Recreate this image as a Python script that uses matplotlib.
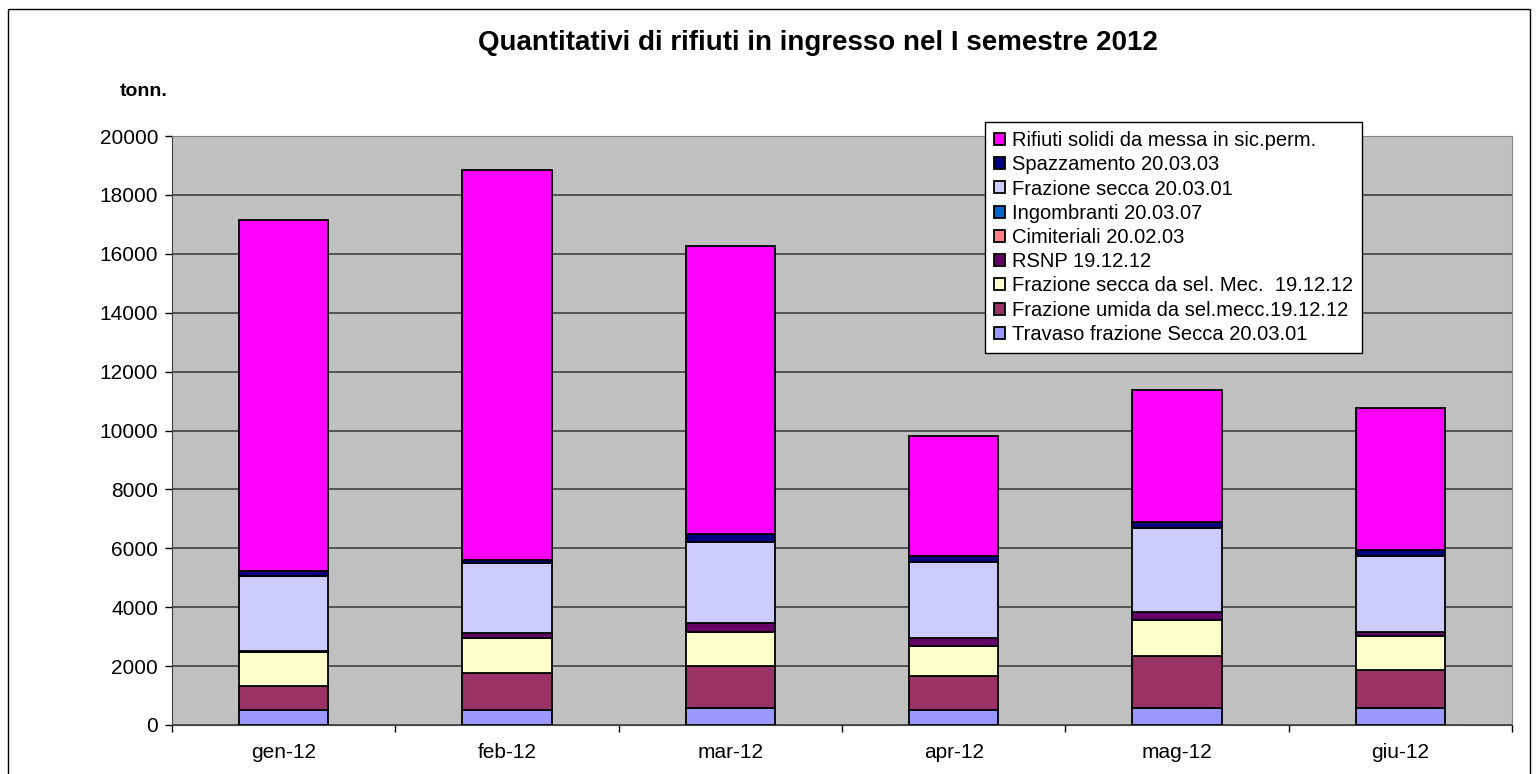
#!/usr/bin/env python3

import numpy as np
import matplotlib
matplotlib.use("Agg")
import matplotlib.pyplot as plt
from matplotlib.patches import Rectangle

plt.rcParams['font.family'] = ['Liberation Sans', 'DejaVu Sans']

# dati (tonn.)
mesi = ["gen-12", "feb-12", "mar-12", "apr-12", "mag-12", "giu-12"]

travaso = [510, 510, 590, 510, 590, 590]
umida = [814, 1245, 1413, 1154, 1753, 1278]
secca_sel = [1166, 1210, 1166, 1019, 1222, 1154]
rsnp = [30, 148, 283, 282, 283, 147]
cimiteriali = [0, 0, 0, 0, 0, 0]
ingombranti = [0, 0, 0, 0, 0, 0]
frazione_secca = [2550, 2377, 2772, 2581, 2832, 2570]
spazzamento = [150, 113, 262, 193, 203, 203]
rifiuti_solidi = [11928, 13243, 9790, 4074, 4492, 4833]

serie = [
    ("Travaso frazione Secca 20.03.01", travaso, "#9999FF"),
    ("Frazione umida da sel.mecc.19.12.12", umida, "#993366"),
    ("Frazione secca da sel. Mec.  19.12.12", secca_sel, "#FFFFCC"),
    ("RSNP 19.12.12", rsnp, "#660066"),
    ("Cimiteriali 20.02.03", cimiteriali, "#FF8080"),
    ("Ingombranti 20.03.07", ingombranti, "#0066CC"),
    ("Frazione secca 20.03.01", frazione_secca, "#CCCCFF"),
    ("Spazzamento 20.03.03", spazzamento, "#000080"),
    ("Rifiuti solidi da messa in sic.perm.", rifiuti_solidi, "#FF00FF"),
]

W, H = 1537, 774
fig = plt.figure(figsize=(W / 100, H / 100), dpi=100)
ax = fig.add_axes([172 / W, 1 - 725 / H, (1512 - 172) / W, (725 - 136) / H])
ax.set_facecolor("#C0C0C0")

x = np.arange(len(mesi))
bottom = np.zeros(len(mesi))
for nome, valori, colore in serie:
    ax.bar(x, valori, width=0.4, bottom=bottom, color=colore,
           edgecolor="black", linewidth=1.3, label=nome, zorder=3)
    bottom += np.array(valori)

ax.set_xlim(-0.5, len(mesi) - 0.5)
ax.set_ylim(0, 20000)
ax.set_yticks(np.arange(0, 20001, 2000))
ax.yaxis.grid(True, color="#404040", linewidth=1.2, zorder=0)
ax.set_axisbelow(True)

ax.set_xticks(x)
ax.set_xticklabels(mesi, fontsize=15)
ax.set_xticks(np.arange(-0.5, len(mesi)), minor=True)
ax.tick_params(axis="x", which="major", length=0, pad=13)
ax.tick_params(axis="x", which="minor", length=5, width=1, direction="out")
ax.tick_params(axis="y", length=5, width=1, direction="out", labelsize=15, pad=5)

for s in ["top", "right"]:
    ax.spines[s].set_color("#808080")
for s in ["left", "bottom"]:
    ax.spines[s].set_color("#404040")

fig.text(818 / W, 1 - 43 / H, "Quantitativi di rifiuti in ingresso nel I semestre 2012",
         ha="center", va="center", fontsize=20, fontweight="bold")
fig.text(144 / W, 1 - 91 / H, "tonn.", ha="center", va="center",
         fontsize=14, fontweight="bold")

handles, labels = ax.get_legend_handles_labels()
leg = fig.legend(handles[::-1], labels[::-1], loc="upper left",
                 bbox_to_anchor=(985 / W, 1 - 122 / H), fontsize=14.5,
                 frameon=True, fancybox=False, framealpha=1,
                 edgecolor="black", handlelength=0.55, handleheight=0.55,
                 handletextpad=0.35, labelspacing=0.26, borderpad=0.45,
                 borderaxespad=0)
leg.get_frame().set_linewidth(1)

# cornice esterna
fig.patches.append(Rectangle((8 / W, -0.01), (1530 - 8) / W, 1.01 - 9 / H,
                             transform=fig.transFigure, fill=False,
                             edgecolor="black", linewidth=1))

fig.savefig("out.png", dpi=100)
